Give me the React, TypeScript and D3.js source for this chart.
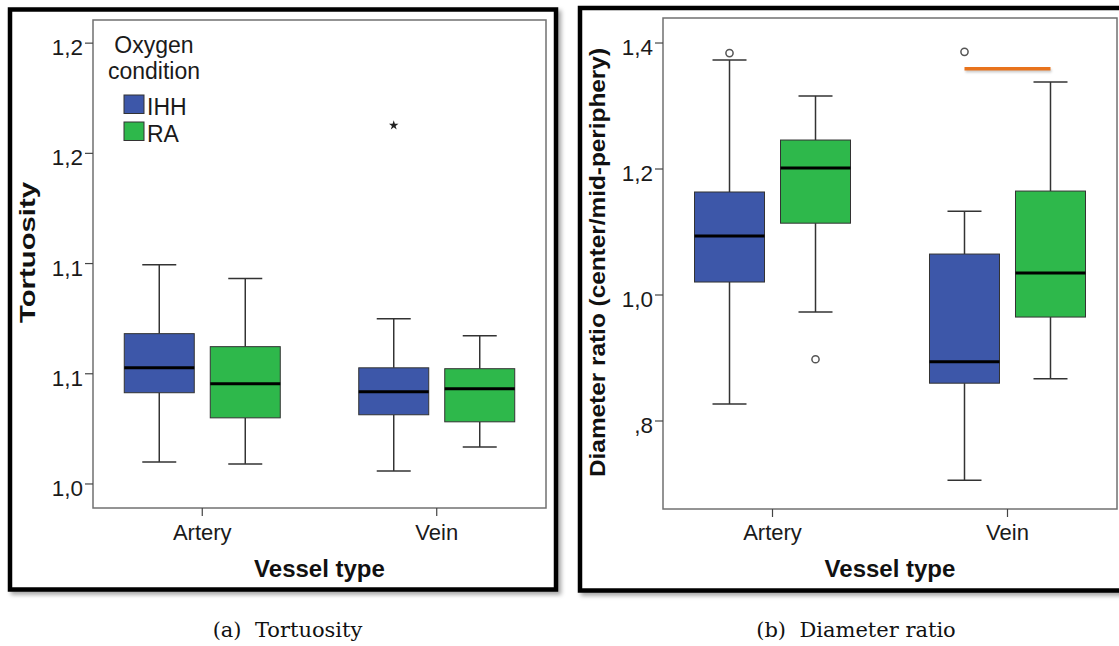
import * as d3 from "d3";

const vessels = ["Artery", "Vein"];
const groups = ["IHH", "RA"];
const groupColors = ["#3d57a9", "#2eb84b"];

// tortuosity boxes (min, q1, median, q3, max)
const tortuosityBoxes = [
  { vessel: "Artery", group: "IHH", min: 1.01, q1: 1.0414, med: 1.0527, q3: 1.0682, max: 1.0995 },
  { vessel: "Artery", group: "RA", min: 1.0091, q1: 1.03, med: 1.0455, q3: 1.0623, max: 1.0932 },
  { vessel: "Vein", group: "IHH", min: 1.0059, q1: 1.0314, med: 1.0418, q3: 1.0527, max: 1.075 },
  { vessel: "Vein", group: "RA", min: 1.0168, q1: 1.0282, med: 1.0432, q3: 1.0523, max: 1.0673 },
];
const tortuosityExtremes = [{ vessel: "Vein", group: "IHH", value: 1.1627 }];
const tortuosityTicks = [1.0, 1.05, 1.1, 1.15, 1.2];
const tortuosityTickLabels = ["1,0", "1,1", "1,1", "1,2", "1,2"];

// diameter ratio boxes
const diameterBoxes = [
  { vessel: "Artery", group: "IHH", min: 0.827, q1: 1.0206, med: 1.0937, q3: 1.1635, max: 1.373 },
  { vessel: "Artery", group: "RA", min: 0.973, q1: 1.114, med: 1.2016, q3: 1.246, max: 1.316 },
  { vessel: "Vein", group: "IHH", min: 0.706, q1: 0.86, med: 0.894, q3: 1.065, max: 1.133 },
  { vessel: "Vein", group: "RA", min: 0.867, q1: 0.965, med: 1.035, q3: 1.165, max: 1.338 },
];
const diameterOutliers = [
  { vessel: "Artery", group: "IHH", value: 1.384 },
  { vessel: "Artery", group: "RA", value: 0.898 },
  { vessel: "Vein", group: "IHH", value: 1.386 },
];
const diameterTicks = [0.8, 1.0, 1.2, 1.4];
const diameterTickLabels = [",8", "1,0", "1,2", "1,4"];
const diameterMarker = { vessel: "Vein", from: "IHH", to: "RA", value: 1.359 };

const SANS = "'Liberation Sans', Arial, sans-serif";

function Panel({ left, top, right, bottom, domain, ticks, tickLabels, boxes, extremes, outliers, marker, yLabel, yLabelX, yLabelY, yLabelLen, showLegend }: any) {
  const y = d3.scaleLinear().domain(domain).range([bottom, top]);
  const x = d3.scalePoint().domain(vessels).range([left, right]).padding(0.466);
  const off = d3.scalePoint().domain(groups).range([-43, 43]);
  const color = d3.scaleOrdinal<string, string>().domain(groups).range(groupColors);
  const bw = 70;
  const cx = (v: string, g: string) => (x(v) as number) + (off(g) as number);
  const star = d3.symbol().type(d3.symbolStar).size(28)();

  return (
    <g>
      <rect x={left} y={top} width={right - left} height={bottom - top} fill="#fff" stroke="#707070" strokeWidth={1.5} />
      {ticks.map((t: number, i: number) => (
        <g key={i}>
          <line x1={left - 8} x2={left} y1={y(t)} y2={y(t)} stroke="#444" strokeWidth={1.2} />
          <text x={left - 10} y={y(t) + 12} textAnchor="end" fontFamily={SANS} fontSize={22.5} fill="#1a1a1a">{tickLabels[i]}</text>
        </g>
      ))}
      {vessels.map((v) => (
        <g key={v}>
          <line x1={x(v)} x2={x(v)} y1={bottom} y2={bottom + 8} stroke="#444" strokeWidth={1.2} />
          <text x={x(v)} y={540} textAnchor="middle" fontFamily={SANS} fontSize={22} fill="#1a1a1a">{v}</text>
        </g>
      ))}
      {boxes.map((b: any, i: number) => {
        const c = cx(b.vessel, b.group);
        return (
          <g key={i}>
            <line x1={c} x2={c} y1={y(b.max)} y2={y(b.q3)} stroke="#333" strokeWidth={1.5} />
            <line x1={c} x2={c} y1={y(b.q1)} y2={y(b.min)} stroke="#333" strokeWidth={1.5} />
            <line x1={c - 17} x2={c + 17} y1={y(b.max)} y2={y(b.max)} stroke="#333" strokeWidth={1.5} />
            <line x1={c - 17} x2={c + 17} y1={y(b.min)} y2={y(b.min)} stroke="#333" strokeWidth={1.5} />
            <rect x={c - bw / 2} y={y(b.q3)} width={bw} height={y(b.q1) - y(b.q3)} fill={color(b.group)} stroke="#333" strokeWidth={1} />
            <line x1={c - bw / 2} x2={c + bw / 2} y1={y(b.med)} y2={y(b.med)} stroke="#000" strokeWidth={3} />
          </g>
        );
      })}
      {(extremes || []).map((o: any, i: number) => (
        <path key={i} d={star as string} transform={`translate(${cx(o.vessel, o.group)},${y(o.value)})`} fill="#222" />
      ))}
      {(outliers || []).map((o: any, i: number) => (
        <circle key={i} cx={cx(o.vessel, o.group)} cy={y(o.value)} r={3.6} fill="#fff" stroke="#555" strokeWidth={1.5} />
      ))}
      {marker && (
        <g>
          <line x1={cx(marker.vessel, marker.from) + 1} x2={cx(marker.vessel, marker.to) + 1} y1={y(marker.value) + 2} y2={y(marker.value) + 2} stroke="#000" strokeOpacity={0.2} strokeWidth={3.5} filter="url(#soft)" />
          <line x1={cx(marker.vessel, marker.from)} x2={cx(marker.vessel, marker.to)} y1={y(marker.value)} y2={y(marker.value)} stroke="#e8731c" strokeWidth={3.5} />
        </g>
      )}
      <text x={(left + right) / 2} y={577} textAnchor="middle" fontFamily={SANS} fontSize={24} fontWeight="bold" fill="#111">Vessel type</text>
      <text transform={`translate(${yLabelX},${yLabelY}) rotate(-90)`} textAnchor="middle" fontFamily={SANS} fontSize={22} fontWeight="bold" fill="#111" textLength={yLabelLen} lengthAdjust="spacingAndGlyphs">{yLabel}</text>
      {showLegend && (
        <g fontFamily={SANS} fill="#1a1a1a">
          <text x={154} y={53} textAnchor="middle" fontSize={23}>Oxygen</text>
          <text x={154} y={79} textAnchor="middle" fontSize={23}>condition</text>
          {groups.map((g, i) => (
            <g key={g}>
              <rect x={124} y={95 + i * 27} width={20} height={18.5} fill={color(g)} stroke="#333" strokeWidth={1} />
              <text x={147} y={115 + i * 27} fontSize={23}>{g}</text>
            </g>
          ))}
        </g>
      )}
    </g>
  );
}

export default function App() {
  return (
    <svg width={1119} height={646} style={{ position: "absolute", left: 0, top: 0, background: "#fff" }}>
      <defs>
        <filter id="shadow" x="-5%" y="-5%" width="110%" height="110%">
          <feDropShadow dx={3} dy={3} stdDeviation={2} floodColor="#000" floodOpacity={0.35} />
        </filter>
        <filter id="soft" filterUnits="userSpaceOnUse" x={0} y={0} width={1119} height={646}>
          <feGaussianBlur stdDeviation={1.2} />
        </filter>
      </defs>
      <rect x={10} y={9.5} width={546} height={580} fill="#fff" stroke="#000" strokeWidth={4.5} filter="url(#shadow)" />
      <rect x={580} y={8} width={560} height={582.5} fill="#fff" stroke="#000" strokeWidth={4.5} filter="url(#shadow)" />
      <Panel
        left={93} top={20} right={546} bottom={508}
        domain={[0.9891, 1.2105]}
        ticks={tortuosityTicks} tickLabels={tortuosityTickLabels}
        boxes={tortuosityBoxes} extremes={tortuosityExtremes}
        yLabel="Tortuosity" yLabelX={35} yLabelY={252.5} yLabelLen={141}
        showLegend
      />
      <Panel
        left={663} top={18} right={1117} bottom={509}
        domain={[0.6603, 1.4397]}
        ticks={diameterTicks} tickLabels={diameterTickLabels}
        boxes={diameterBoxes} outliers={diameterOutliers} marker={diameterMarker}
        yLabel="Diameter ratio (center/mid-periphery)" yLabelX={605} yLabelY={262.5} yLabelLen={429}
      />
      <text x={287.5} y={637} textAnchor="middle" fontFamily="'DejaVu Serif', serif" fontSize={21} fill="#111" style={{ whiteSpace: "pre" }}>{"(a)  Tortuosity"}</text>
      <text x={856} y={637} textAnchor="middle" fontFamily="'DejaVu Serif', serif" fontSize={21} fill="#111" style={{ whiteSpace: "pre" }}>{"(b)  Diameter ratio"}</text>
    </svg>
  );
}
